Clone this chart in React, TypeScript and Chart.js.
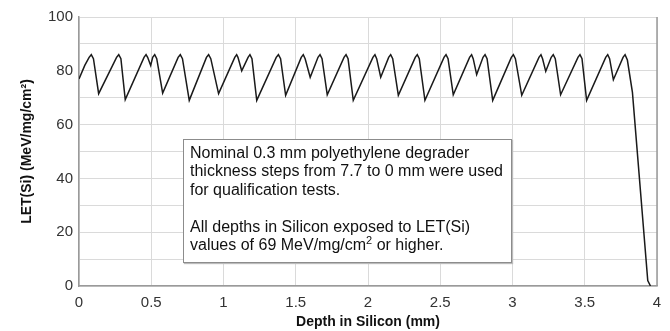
import React, { useEffect, useRef } from "react";
import { Chart, registerables } from "chart.js";

Chart.register(...registerables);

// Depth in Silicon (mm)
const depth: number[] = [
  0, 0.04, 0.07, 0.085, 0.1, 0.136,
  0.26, 0.275, 0.29, 0.32,
  0.45, 0.464, 0.475, 0.496, 0.51, 0.524, 0.538, 0.579,
  0.686, 0.701, 0.716, 0.763,
  0.882, 0.897, 0.912, 0.966,
  1.078, 1.091, 1.1, 1.126, 1.17, 1.183, 1.197, 1.23,
  1.365, 1.38, 1.395, 1.43,
  1.538, 1.552, 1.565, 1.6, 1.654, 1.668, 1.682, 1.718,
  1.834, 1.848, 1.862, 1.898,
  2.034, 2.048, 2.06, 2.088, 2.143, 2.157, 2.171, 2.21,
  2.327, 2.341, 2.355, 2.394,
  2.526, 2.54, 2.554, 2.59,
  2.703, 2.717, 2.728, 2.752, 2.796, 2.81, 2.824, 2.863,
  2.992, 3.006, 3.02, 3.064,
  3.183, 3.197, 3.208, 3.23, 3.268, 3.282, 3.296, 3.333,
  3.453, 3.467, 3.481, 3.513,
  3.645, 3.659, 3.672, 3.698, 3.765, 3.779, 3.795, 3.83,
  3.936, 3.955,
];

// LET(Si) (MeV/mg/cm2)
const letSi: number[] = [
  77, 82, 85, 86, 84.5, 71.5,
  85, 86, 84.5, 69.3,
  85, 86, 85, 82, 85, 86, 84.5, 71.7,
  85, 86, 84.5, 69,
  85, 86, 84.5, 71.5,
  85, 86, 85, 80, 85, 86, 84.5, 69,
  85, 86, 84.5, 70.9,
  85, 86, 84.5, 77.6, 85, 86, 84.5, 71.1,
  85, 86, 84.5, 69,
  85, 86, 84.5, 77.6, 85, 86, 84.5, 70.9,
  85, 86, 84.5, 69,
  85, 86, 84.5, 71.1,
  85, 86, 84.5, 78.6, 85, 86, 84.5, 69,
  85, 86, 84.5, 70.9,
  85, 86, 84.5, 79.8, 85, 86, 84.5, 71.1,
  85, 86, 84.5, 69,
  85, 86, 84.5, 76.7, 85, 86, 84, 72,
  2, 0,
];

const xTitle = "Depth in Silicon (mm)";
const yTitle = "LET(Si) (MeV/mg/cm\u00B2)";
const noteLines1 = [
  "Nominal 0.3 mm polyethylene degrader",
  "thickness steps from 7.7 to 0 mm were used",
  "for qualification tests.",
];

const FONT = "Arial, 'Liberation Sans', sans-serif";

export default function App() {
  const ref = useRef<HTMLCanvasElement | null>(null);

  useEffect(() => {
    if (!ref.current) return;
    const rightBorder = {
      id: "rightBorder",
      afterDraw(chart: any) {
        const { ctx, chartArea } = chart;
        ctx.save();
        ctx.strokeStyle = "#9a9a9a";
        ctx.lineWidth = 1.5;
        ctx.beginPath();
        ctx.moveTo(chartArea.right, chartArea.top);
        ctx.lineTo(chartArea.right, chartArea.bottom);
        ctx.stroke();
        ctx.restore();
      },
    };
    const chart = new Chart(ref.current, {
      type: "line",
      data: {
        datasets: [
          {
            data: depth.map((d, i) => ({ x: d, y: letSi[i] })),
            borderColor: "#1a1a1a",
            borderWidth: 1.5,
            pointRadius: 0,
            tension: 0,
            fill: false,
          },
        ],
      },
      options: {
        animation: false,
        responsive: false,
        maintainAspectRatio: false,
        layout: { padding: { top: 17, right: 13, left: 19, bottom: 0 } },
        plugins: { legend: { display: false }, tooltip: { enabled: false } },
        scales: {
          x: {
            type: "linear",
            min: 0,
            max: 4,
            afterFit: (s: any) => {
              s.height = 45;
            },
            ticks: {
              stepSize: 0.5,
              color: "#333",
              padding: 8,
              font: { family: FONT, size: 15 },
              maxRotation: 0,
              callback: (v: any) => String(Number(v)),
            },
            grid: { color: "#dadada", drawTicks: false, lineWidth: 1 },
            border: { color: "#9a9a9a", width: 1.5 },
            title: {
              display: true,
              text: xTitle,
              color: "#111",
              font: { family: FONT, size: 14, weight: "bold" },
              padding: { top: 0, bottom: 0 },
            },
          },
          y: {
            min: 0,
            max: 100,
            afterFit: (s: any) => {
              s.width = 60;
            },
            ticks: {
              stepSize: 10,
              color: "#333",
              padding: 6,
              font: { family: FONT, size: 15 },
              callback: (v: any) => (Number(v) % 20 === 0 ? String(v) : ""),
            },
            grid: { color: "#dadada", drawTicks: false, lineWidth: 1 },
            border: { color: "#9a9a9a", width: 1.5 },
            title: {
              display: true,
              text: yTitle,
              color: "#111",
              font: { family: FONT, size: 14, weight: "bold" },
              padding: { top: 0, bottom: 0 },
            },
          },
        },
      },
      plugins: [rightBorder],
    });
    return () => chart.destroy();
  }, []);

  return (
    <div style={{ position: "absolute", left: 0, top: 0, width: 670, height: 331, background: "#fff" }}>
      <canvas ref={ref} width={670} height={331} style={{ width: 670, height: 331 }} />
      <div
        style={{
          position: "absolute",
          left: 183,
          top: 139,
          width: 329,
          height: 124,
          border: "1.5px solid #8c8c8c",
          boxShadow: "1px 1px 1px #bbb",
          background: "#fff",
          fontFamily: FONT,
          fontSize: 16,
          lineHeight: "18.4px",
          color: "#111",
          padding: "4px 0 0 6px",
          boxSizing: "border-box",
          whiteSpace: "nowrap",
        }}
      >
        {noteLines1.map((l, i) => (
          <div key={i}>{l}</div>
        ))}
        <div style={{ height: 18.4 }} />
        <div>All depths in Silicon exposed to LET(Si)</div>
        <div>
          values of 69 MeV/mg/cm<sup style={{ fontSize: 11, lineHeight: 0 }}>2</sup> or higher.
        </div>
      </div>
    </div>
  );
}
